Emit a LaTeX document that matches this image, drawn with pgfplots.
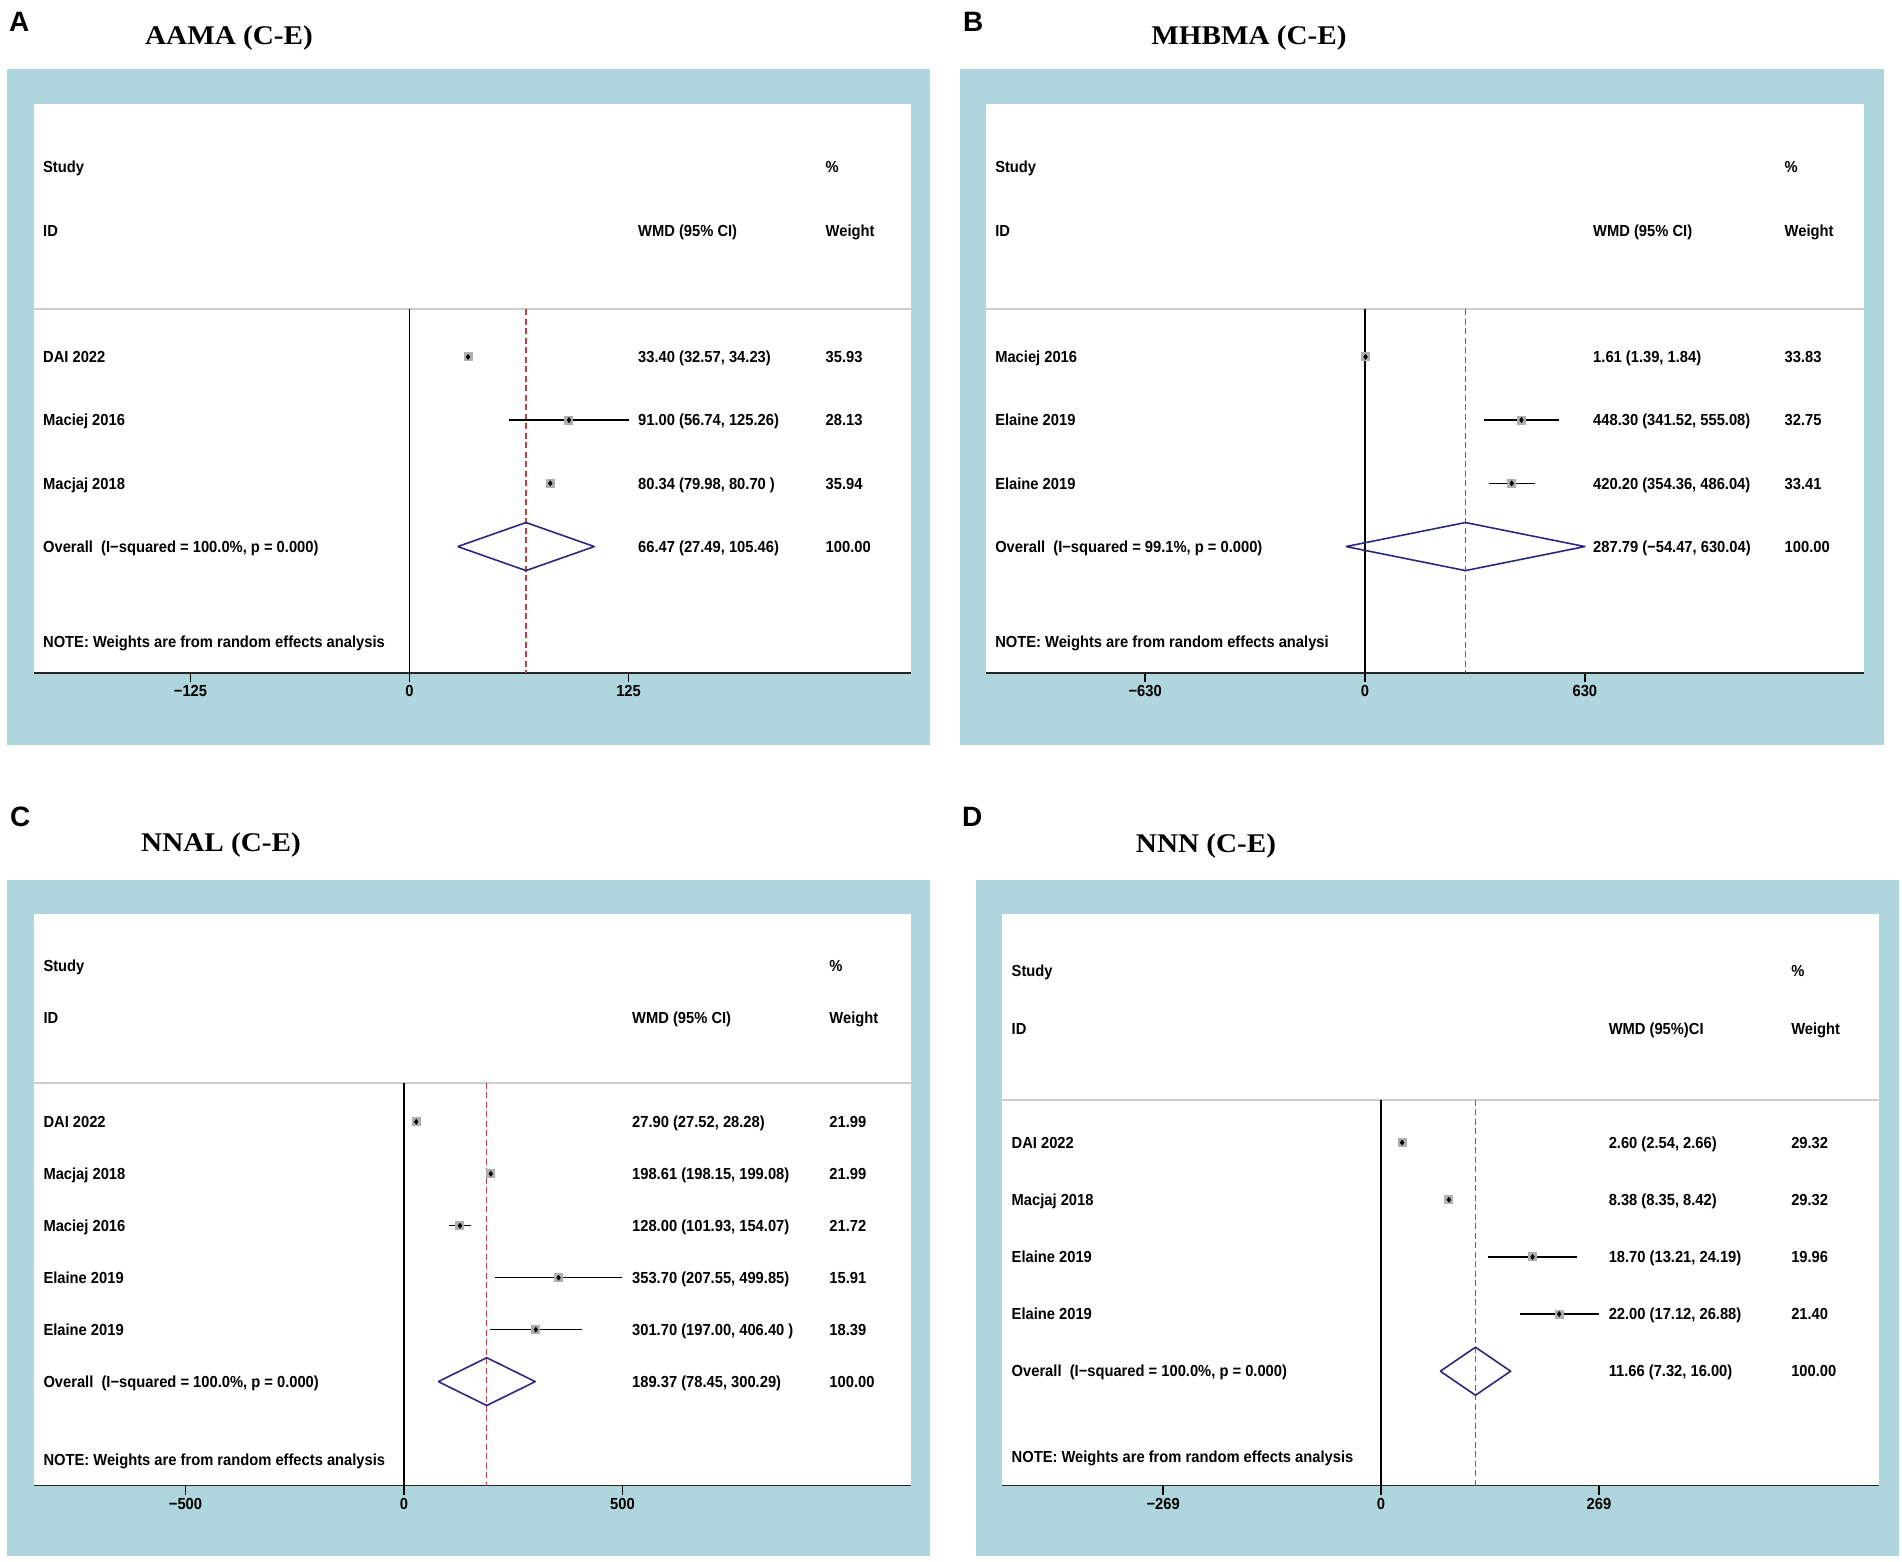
\documentclass[border=0pt]{standalone}
\usepackage{pgfplots}
\pgfplotsset{compat=1.18}
\usepackage{pgfplotstable}
\usepackage{fontspec}
\setmainfont{Liberation Sans}
\newfontfamily\stata{Liberation Sans}[FakeStretch=0.92]
\newfontfamily\titlefont{Liberation Serif}[FakeStretch=1.08]
\definecolor{panelblue}{RGB}{175,213,221}
\definecolor{sepgray}{RGB}{205,205,205}
\definecolor{refred}{RGB}{185,65,65}
\definecolor{diamondblue}{RGB}{45,40,125}
\definecolor{markgray}{RGB}{175,175,175}
\newcommand\tf{\stata\bfseries\fontsize{16}{18}\selectfont}

% rows: study lines start at row 4, one row each
\pgfplotstableread{
row est lo hi
4 33.40 32.57 34.23
5 91.00 56.74 125.26
6 80.34 79.98 80.70
}\dataA
\pgfplotstableread{
row est lo hi
4 1.61 1.39 1.84
5 448.30 341.52 555.08
6 420.20 354.36 486.04
}\dataB
\pgfplotstableread{
row est lo hi
4 27.90 27.52 28.28
5 198.61 198.15 199.08
6 128.00 101.93 154.07
7 353.70 207.55 499.85
8 301.70 197.00 406.40
}\dataC
\pgfplotstableread{
row est lo hi
4 2.60 2.54 2.66
5 8.38 8.35 8.42
6 18.70 13.21 24.19
7 22.00 17.12 26.88
}\dataD

\pgfplotsset{
  forest/.style={scale only axis, anchor=north west, axis x line*=bottom, axis y line=none,
    ymax=0, clip=false, tick align=outside, major tick length=9pt,
    x axis line style={-, line width=1.6pt, black!85},
    xtick style={black, line width=1.3pt}, xticklabel style={font=\tf}},
  sep/.style={sepgray, line width=2pt},
  zero/.style={black, line width=1.2pt},
  ref/.style={refred, line width=1.1pt, dash pattern=on 6pt off 3.5pt},
  ci/.style={only marks, mark=square*, mark size=4pt, mark options={fill=markgray, draw=markgray, line width=0pt},
    error bars/.cd, x dir=both, x explicit, error mark=none, error bar style={black, line width=1.5pt}},
  dot/.style={only marks, mark=diamond*, mark size=2.6pt, black},
  diam/.style={diamondblue, line width=1.6pt, line join=round},
}
\tikzset{lab/.style={anchor=base west, yshift=-5.7pt, inner sep=0pt, font=\tf},
  letter/.style={anchor=base west, inner sep=0pt, font=\bfseries\fontsize{28}{28}\selectfont},
  ttl/.style={anchor=base, inner sep=0pt, font=\titlefont\bfseries\fontsize{27}{30}\selectfont}}

\begin{document}
\begin{tikzpicture}
\fill[white] (0pt,0pt) rectangle (1902pt,-1561pt);
% panel frames
\fill[panelblue] (7pt,-69pt) rectangle (930pt,-745pt);
\fill[white] (33.5pt,-104pt) rectangle (911pt,-673pt);
\fill[panelblue] (960pt,-69pt) rectangle (1884pt,-745pt);
\fill[white] (985.5pt,-104pt) rectangle (1864pt,-673pt);
\fill[panelblue] (7pt,-880pt) rectangle (930pt,-1556pt);
\fill[white] (34pt,-914pt) rectangle (911pt,-1485.5pt);
\fill[panelblue] (976pt,-880pt) rectangle (1899pt,-1556pt);
\fill[white] (1002pt,-914pt) rectangle (1879pt,-1485.5pt);

\node[letter] at (9pt,-31pt) {A};
\node[letter] at (963pt,-31pt) {B};
\node[letter] at (10pt,-826pt) {C};
\node[letter] at (962pt,-826pt) {D};
\node[ttl] at (229pt,-44pt) {AAMA (C-E)};
\node[ttl] at (1249pt,-44pt) {MHBMA (C-E)};
\node[ttl] at (221pt,-851pt) {NNAL (C-E)};
\node[ttl] at (1206pt,-852pt) {NNN (C-E)};

% ---- A
\begin{axis}[forest, at={(33.5pt,-104pt)}, width=877.5pt, height=569pt,
  xmin=-214.6, xmax=286.2, ymin=-9, xtick={-125,0,125}, xticklabels={−125,0,125}]
\addplot[sep] coordinates {(-214.6,-3.25) (286.2,-3.25)};
\addplot[zero] coordinates {(0,-3.25) (0,-9)};
\addplot[ref] coordinates {(66.47,-3.25) (66.47,-9)};
\addplot[ci] table[x=est, y expr=-\thisrow{row}, x error plus expr=\thisrow{hi}-\thisrow{est}, x error minus expr=\thisrow{est}-\thisrow{lo}] {\dataA};
\addplot[dot] table[x=est, y expr=-\thisrow{row}] {\dataA};
\addplot[diam] coordinates {(27.49,-7) (66.47,-6.62) (105.46,-7) (66.47,-7.38) (27.49,-7)};
\node[lab] at (axis cs:-209.2,-1) {Study};
\node[lab] at (axis cs:237.4,-1) {\%};
\node[lab] at (axis cs:-209.2,-2) {ID};
\node[lab] at (axis cs:130.4,-2) {WMD (95\% CI)};
\node[lab] at (axis cs:237.4,-2) {Weight};
\node[lab] at (axis cs:-209.2,-4) {DAI 2022};
\node[lab] at (axis cs:130.4,-4) {33.40 (32.57, 34.23)};
\node[lab] at (axis cs:237.4,-4) {35.93};
\node[lab] at (axis cs:-209.2,-5) {Maciej 2016};
\node[lab] at (axis cs:130.4,-5) {91.00 (56.74, 125.26)};
\node[lab] at (axis cs:237.4,-5) {28.13};
\node[lab] at (axis cs:-209.2,-6) {Macjaj 2018};
\node[lab] at (axis cs:130.4,-6) {80.34 (79.98, 80.70 )};
\node[lab] at (axis cs:237.4,-6) {35.94};
\node[lab] at (axis cs:-209.2,-7) {Overall\ \ (I−squared = 100.0\%, p = 0.000)};
\node[lab] at (axis cs:130.4,-7) {66.47 (27.49, 105.46)};
\node[lab] at (axis cs:237.4,-7) {100.00};
\node[lab] at (axis cs:-209.2,-8.5) {NOTE: Weights are from random effects analysis};
\end{axis}

% ---- B
\begin{axis}[forest, at={(985.5pt,-104pt)}, width=878.5pt, height=569pt,
  xmin=-1087.4, xmax=1429.8, ymin=-9, xtick={-630,0,630}, xticklabels={−630,0,630}]
\addplot[sep] coordinates {(-1087.4,-3.25) (1429.8,-3.25)};
\addplot[zero] coordinates {(0,-3.25) (0,-9)};
\addplot[ref] coordinates {(287.79,-3.25) (287.79,-9)};
\addplot[ci] table[x=est, y expr=-\thisrow{row}, x error plus expr=\thisrow{hi}-\thisrow{est}, x error minus expr=\thisrow{est}-\thisrow{lo}] {\dataB};
\addplot[dot] table[x=est, y expr=-\thisrow{row}] {\dataB};
\addplot[diam] coordinates {(-54.47,-7) (287.79,-6.62) (630.04,-7) (287.79,-7.38) (-54.47,-7)};
\node[lab] at (axis cs:-1060,-1) {Study};
\node[lab] at (axis cs:1202,-1) {\%};
\node[lab] at (axis cs:-1060,-2) {ID};
\node[lab] at (axis cs:653.3,-2) {WMD (95\% CI)};
\node[lab] at (axis cs:1202,-2) {Weight};
\node[lab] at (axis cs:-1060,-4) {Maciej 2016};
\node[lab] at (axis cs:653.3,-4) {1.61 (1.39, 1.84)};
\node[lab] at (axis cs:1202,-4) {33.83};
\node[lab] at (axis cs:-1060,-5) {Elaine 2019};
\node[lab] at (axis cs:653.3,-5) {448.30 (341.52, 555.08)};
\node[lab] at (axis cs:1202,-5) {32.75};
\node[lab] at (axis cs:-1060,-6) {Elaine 2019};
\node[lab] at (axis cs:653.3,-6) {420.20 (354.36, 486.04)};
\node[lab] at (axis cs:1202,-6) {33.41};
\node[lab] at (axis cs:-1060,-7) {Overall\ \ (I−squared = 99.1\%, p = 0.000)};
\node[lab] at (axis cs:653.3,-7) {287.79 (−54.47, 630.04)};
\node[lab] at (axis cs:1202,-7) {100.00};
\node[lab] at (axis cs:-1060,-8.5) {NOTE: Weights are from random effects analysi};
\end{axis}

% ---- C
\begin{axis}[forest, at={(34pt,-914pt)}, width=877pt, height=571.5pt,
  xmin=-846.7, xmax=1160.2, ymin=-11, xtick={-500,0,500}, xticklabels={−500,0,500}]
\addplot[sep] coordinates {(-846.7,-3.25) (1160.2,-3.25)};
\addplot[zero] coordinates {(0,-3.25) (0,-11)};
\addplot[ref] coordinates {(189.37,-3.25) (189.37,-11)};
\addplot[ci] table[x=est, y expr=-\thisrow{row}, x error plus expr=\thisrow{hi}-\thisrow{est}, x error minus expr=\thisrow{est}-\thisrow{lo}] {\dataC};
\addplot[dot] table[x=est, y expr=-\thisrow{row}] {\dataC};
\addplot[diam] coordinates {(78.45,-9) (189.37,-8.54) (300.29,-9) (189.37,-9.46) (78.45,-9)};
\node[lab] at (axis cs:-825.4,-1) {Study};
\node[lab] at (axis cs:973.2,-1) {\%};
\node[lab] at (axis cs:-825.4,-2) {ID};
\node[lab] at (axis cs:521.7,-2) {WMD (95\% CI)};
\node[lab] at (axis cs:973.2,-2) {Weight};
\node[lab] at (axis cs:-825.4,-4) {DAI 2022};
\node[lab] at (axis cs:521.7,-4) {27.90 (27.52, 28.28)};
\node[lab] at (axis cs:973.2,-4) {21.99};
\node[lab] at (axis cs:-825.4,-5) {Macjaj 2018};
\node[lab] at (axis cs:521.7,-5) {198.61 (198.15, 199.08)};
\node[lab] at (axis cs:973.2,-5) {21.99};
\node[lab] at (axis cs:-825.4,-6) {Maciej 2016};
\node[lab] at (axis cs:521.7,-6) {128.00 (101.93, 154.07)};
\node[lab] at (axis cs:973.2,-6) {21.72};
\node[lab] at (axis cs:-825.4,-7) {Elaine 2019};
\node[lab] at (axis cs:521.7,-7) {353.70 (207.55, 499.85)};
\node[lab] at (axis cs:973.2,-7) {15.91};
\node[lab] at (axis cs:-825.4,-8) {Elaine 2019};
\node[lab] at (axis cs:521.7,-8) {301.70 (197.00, 406.40 )};
\node[lab] at (axis cs:973.2,-8) {18.39};
\node[lab] at (axis cs:-825.4,-9) {Overall\ \ (I−squared = 100.0\%, p = 0.000)};
\node[lab] at (axis cs:521.7,-9) {189.37 (78.45, 300.29)};
\node[lab] at (axis cs:973.2,-9) {100.00};
\node[lab] at (axis cs:-825.4,-10.5) {NOTE: Weights are from random effects analysis};
\end{axis}

% ---- D
\begin{axis}[forest, at={(1002pt,-914pt)}, width=877pt, height=571.5pt,
  xmin=-46.79, xmax=61.48, ymin=-10, xtick={-26.9,0,26.9}, xticklabels={−269,0,269}]
\addplot[sep] coordinates {(-46.79,-3.25) (61.48,-3.25)};
\addplot[zero] coordinates {(0,-3.25) (0,-10)};
\addplot[ref] coordinates {(11.66,-3.25) (11.66,-10)};
\addplot[ci] table[x=est, y expr=-\thisrow{row}, x error plus expr=\thisrow{hi}-\thisrow{est}, x error minus expr=\thisrow{est}-\thisrow{lo}] {\dataD};
\addplot[dot] table[x=est, y expr=-\thisrow{row}] {\dataD};
\addplot[diam] coordinates {(7.32,-8) (11.66,-7.58) (16.00,-8) (11.66,-8.42) (7.32,-8)};
\node[lab] at (axis cs:-45.62,-1) {Study};
\node[lab] at (axis cs:50.62,-1) {\%};
\node[lab] at (axis cs:-45.62,-2) {ID};
\node[lab] at (axis cs:28.09,-2) {WMD (95\%)CI};
\node[lab] at (axis cs:50.62,-2) {Weight};
\node[lab] at (axis cs:-45.62,-4) {DAI 2022};
\node[lab] at (axis cs:28.09,-4) {2.60 (2.54, 2.66)};
\node[lab] at (axis cs:50.62,-4) {29.32};
\node[lab] at (axis cs:-45.62,-5) {Macjaj 2018};
\node[lab] at (axis cs:28.09,-5) {8.38 (8.35, 8.42)};
\node[lab] at (axis cs:50.62,-5) {29.32};
\node[lab] at (axis cs:-45.62,-6) {Elaine 2019};
\node[lab] at (axis cs:28.09,-6) {18.70 (13.21, 24.19)};
\node[lab] at (axis cs:50.62,-6) {19.96};
\node[lab] at (axis cs:-45.62,-7) {Elaine 2019};
\node[lab] at (axis cs:28.09,-7) {22.00 (17.12, 26.88)};
\node[lab] at (axis cs:50.62,-7) {21.40};
\node[lab] at (axis cs:-45.62,-8) {Overall\ \ (I−squared = 100.0\%, p = 0.000)};
\node[lab] at (axis cs:28.09,-8) {11.66 (7.32, 16.00)};
\node[lab] at (axis cs:50.62,-8) {100.00};
\node[lab] at (axis cs:-45.62,-9.5) {NOTE: Weights are from random effects analysis};
\end{axis}
\end{tikzpicture}
\end{document}
